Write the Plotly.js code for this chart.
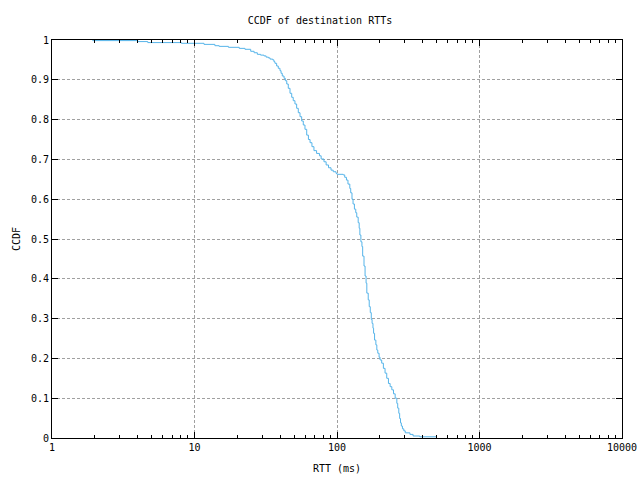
<!DOCTYPE html>
<html>
<head>
<meta charset="utf-8">
<script src="https://cdn.plot.ly/plotly-3.0.1.min.js"></script>
<style>html,body{margin:0;padding:0;background:#fff;}#chart{width:640px;height:480px;}</style>
</head>
<body>
<div id="chart"></div>
<script>
// RTT values (ms) and CCDF values
const rtt = [1.92, 4.0, 4.7, 8.1, 11.66, 13.9, 14.9, 17.3, 20.6, 22.6, 24.8, 26.2, 27.6, 29.1, 30.7, 31.8, 33.0, 33.9, 35.4, 36.1, 36.7, 37.7, 38.7, 39.8, 40.5, 41.3, 42.5, 43.4, 44.4, 45.5, 46.8, 48.1, 49.3, 50.7, 52.1, 53.5, 55.0, 56.5, 58.0, 59.6, 61.3, 63.0, 64.7, 66.7, 68.9, 71.9, 75.3, 77.4, 81.0, 83.9, 87.2, 90.8, 94.1, 98.4, 100, 110.5, 113.3, 116.5, 119.4, 123, 124.8, 127.4, 129.6, 132.5, 135.4, 137.6, 140.8, 143.1, 144.7, 147.1, 149.6, 151.4, 154.7, 157.4, 160, 161.9, 165.6, 168.3, 171.2, 174, 176.3, 178.8, 180.6, 183.5, 187.4, 190.3, 193.3, 197.4, 200.5, 205.9, 211.6, 217.4, 223.4, 229.6, 235.9, 242.5, 249.2, 256, 263, 266.7, 271.5, 275.2, 279, 282.8, 287.9, 294.5, 301.3, 325, 342, 381, 500];
const ccdf = [0.9985, 0.9960, 0.9935, 0.9917, 0.9890, 0.9857, 0.9840, 0.9816, 0.9790, 0.9766, 0.9716, 0.9680, 0.9640, 0.9620, 0.9600, 0.9570, 0.9550, 0.9520, 0.9500, 0.9455, 0.9414, 0.9347, 0.9289, 0.9229, 0.9163, 0.9095, 0.9038, 0.8977, 0.8894, 0.8786, 0.8661, 0.8560, 0.8475, 0.8392, 0.8284, 0.8173, 0.8073, 0.7965, 0.7864, 0.7756, 0.7610, 0.7500, 0.7420, 0.7320, 0.7220, 0.7150, 0.7090, 0.7010, 0.6940, 0.6860, 0.6790, 0.6730, 0.6690, 0.6650, 0.6625, 0.6610, 0.6550, 0.6480, 0.6380, 0.6270, 0.6160, 0.6000, 0.5880, 0.5750, 0.5660, 0.5550, 0.5410, 0.5270, 0.5100, 0.4930, 0.4810, 0.4570, 0.4320, 0.4070, 0.3890, 0.3640, 0.3470, 0.3300, 0.3150, 0.2980, 0.2880, 0.2760, 0.2630, 0.2460, 0.2340, 0.2210, 0.2130, 0.2030, 0.1960, 0.1880, 0.1750, 0.1630, 0.1500, 0.1370, 0.1290, 0.1210, 0.1110, 0.1000, 0.0870, 0.0750, 0.0620, 0.0490, 0.0380, 0.0300, 0.0230, 0.0180, 0.0130, 0.0090, 0.0050, 0.0030, 0.0015];
const xTickVals = [1, 10, 100, 1000, 10000];
const xTickText = ['1', '10', '100', '1000', '10000'];
const xMinorVals = [];
for (const d of [1, 10, 100, 1000]) for (let k = 2; k <= 9; k++) xMinorVals.push(d * k);

const font = {family: 'DejaVu Sans Mono, Liberation Mono, monospace', size: 10, color: '#000'};
const gridColor = '#a0a0a0';

Plotly.newPlot('chart', [{
  x: rtt, y: ccdf, type: 'scatter', mode: 'lines',
  line: {color: '#56b4e9', width: 1, shape: 'hv'},
  showlegend: false
}], {
  width: 640, height: 480,
  margin: {l: 52, r: 18, t: 40, b: 42},
  paper_bgcolor: '#fff', plot_bgcolor: '#fff',
  font: font,
  title: {text: 'CCDF of destination RTTs', font: font, x: 0.5, xanchor: 'center', y: 0.958, yanchor: 'middle'},
  xaxis: {
    type: 'log', range: [0, 4],
    tickmode: 'array', tickvals: xTickVals, ticktext: xTickText,
    ticks: 'inside', ticklen: 6, tickcolor: '#000', tickwidth: 1,
    minor: {tickmode: 'array', tickvals: xMinorVals, ticks: 'inside', ticklen: 3, tickcolor: '#000', showgrid: false},
    showline: true, linecolor: '#000', linewidth: 1, mirror: 'ticks',
    showgrid: true, gridcolor: gridColor, griddash: '3px,2px', gridwidth: 1,
    zeroline: false, tickfont: font,
    title: {text: 'RTT (ms)', font: font, standoff: 12}
  },
  yaxis: {
    range: [0, 1], dtick: 0.1, tick0: 0,
    ticks: 'inside', ticklen: 6, tickcolor: '#000', tickwidth: 1,
    showline: true, linecolor: '#000', linewidth: 1, mirror: 'ticks',
    showgrid: true, gridcolor: gridColor, griddash: '3px,2px', gridwidth: 1,
    zeroline: false, tickfont: font,
    title: {text: 'CCDF', font: font, standoff: 8}
  }
}, {displayModeBar: false, staticPlot: true});
</script>
</body>
</html>
